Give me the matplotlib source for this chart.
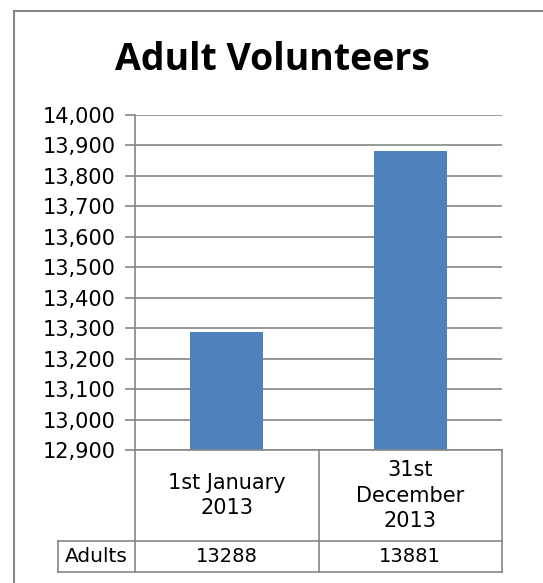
import matplotlib
matplotlib.use('Agg')
import matplotlib.pyplot as plt
from matplotlib.lines import Line2D

categories = ['1st January\n2013', '31st\nDecember\n2013']
series_name = 'Adults'
values = [13288, 13881]
y_ticks = list(range(12900, 14001, 100))

W, H = 543, 583
fig = plt.figure(figsize=(W / 100, H / 100), dpi=100)

def fx(px):
    return px / W

def fy(py):
    return 1 - py / H

grey = '#868686'
bar_col = '#4f81bd'

# outer chart border (only left and top visible)
fig.add_artist(Line2D([fx(14), fx(14)], [0, fy(11)], color=grey, lw=1.5))
fig.add_artist(Line2D([fx(14), 1], [fy(11), fy(11)], color=grey, lw=1.5))

fig.text(fx(272), fy(60), 'Adult Volunteers', ha='center', va='center',
         fontsize=27, fontweight='bold', family='Open Sans')

# plot area
ax = fig.add_axes([fx(135), fy(450), fx(502) - fx(135), fy(115) - fy(450)])
x = list(range(len(categories)))
ax.bar(x, [v - y_ticks[0] for v in values], bottom=y_ticks[0], width=0.4,
       color=bar_col, zorder=3)
ax.set_xlim(-0.5, len(categories) - 0.5)
ax.set_ylim(y_ticks[0], y_ticks[-1])
ax.set_yticks(y_ticks)
ax.set_yticklabels([f'{t:,}' for t in y_ticks], fontsize=15)
ax.set_xticks([])
ax.yaxis.grid(True, color=grey, lw=1.2, zorder=0)
for s in ['top', 'right', 'bottom']:
    ax.spines[s].set_visible(False)
ax.spines['left'].set_color(grey)
ax.spines['left'].set_linewidth(1.2)
ax.tick_params(axis='y', length=7, width=1.2, color=grey, pad=7)

# data table
tax = fig.add_axes([fx(135), fy(572), fx(502) - fx(135), fy(450) - fy(572)])
tax.set_xlim(-0.5, len(categories) - 0.5)
tax.set_ylim(0, 1)
tax.axis('off')
split = 31 / 122
label_left = -0.5 - 77 / 183.5
kw = dict(color=grey, lw=1.2, clip_on=False)
tax.plot([-0.5, len(categories) - 0.5], [1, 1], **kw)
tax.plot([label_left, len(categories) - 0.5], [split, split], **kw)
tax.plot([label_left, len(categories) - 0.5], [0, 0], **kw)
tax.plot([label_left, label_left], [0, split], **kw)
for b in range(len(categories) + 1):
    tax.plot([b - 0.5, b - 0.5], [0, 1], **kw)
for i, (c, v) in enumerate(zip(categories, values)):
    tax.text(i, (1 + split) / 2, c, ha='center', va='center', fontsize=15,
             linespacing=1.35)
    tax.text(i, split / 2, str(v), ha='center', va='center', fontsize=14)
tax.text((label_left - 0.5) / 2, split / 2, series_name, ha='center',
         va='center', fontsize=14.5)

fig.savefig('out.png', dpi=100)
